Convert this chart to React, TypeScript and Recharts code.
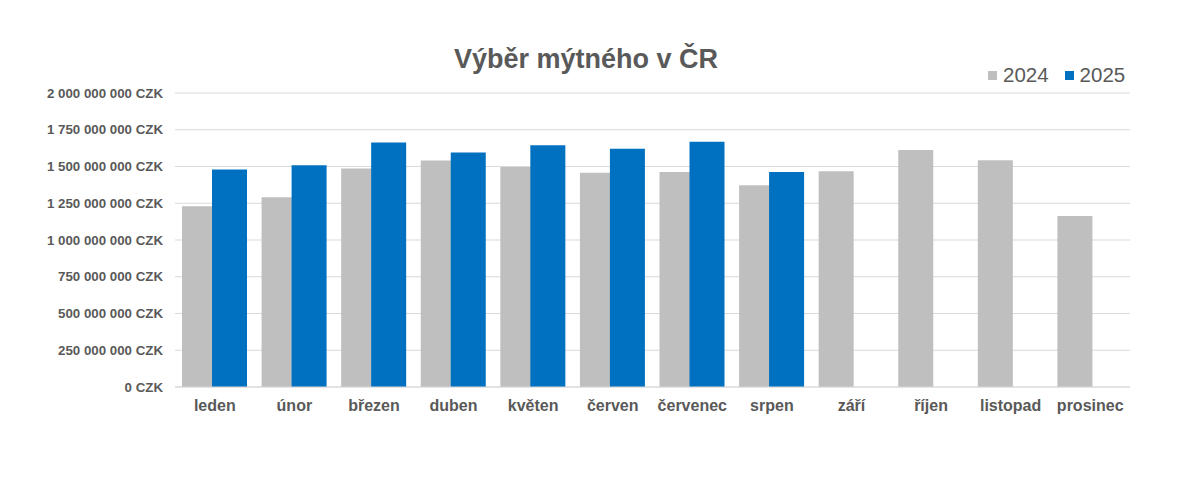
import { BarChart, Bar, XAxis, YAxis, CartesianGrid } from 'recharts';

const months = ['leden', 'únor', 'březen', 'duben', 'květen', 'červen', 'červenec', 'srpen', 'září', 'říjen', 'listopad', 'prosinec'];
const values2024 = [1230e6, 1291e6, 1486e6, 1540e6, 1497e6, 1457e6, 1463e6, 1373e6, 1468e6, 1613e6, 1543e6, 1164e6];
const values2025 = [1479e6, 1509e6, 1663e6, 1595e6, 1645e6, 1620e6, 1668e6, 1463e6, null, null, null, null];
const yTicks = [0, 250e6, 500e6, 750e6, 1000e6, 1250e6, 1500e6, 1750e6, 2000e6];

const data = months.map((m, i) => ({ month: m, y2024: values2024[i], y2025: values2025[i] }));

const FONT = '"Liberation Sans", Arial, sans-serif';
const TEXT = '#595959';

const formatCzk = (v: number) => String(Math.round(v)).replace(/\B(?=(\d{3})+(?!\d))/g, ' ') + ' CZK';

const legendItems = [
  { label: '2024', color: '#bfbfbf' },
  { label: '2025', color: '#0070c0' },
];

export default function App() {
  return (
    <div style={{ position: 'fixed', top: 0, left: 0, width: 1200, height: 477, background: '#fff' }}>
      <div
        style={{
          position: 'absolute',
          top: 44,
          left: 386,
          width: 400,
          textAlign: 'center',
          fontFamily: FONT,
          fontWeight: 'bold',
          fontSize: 27,
          color: TEXT,
        }}
      >
        Výběr mýtného v ČR
      </div>
      {/* legenda vpravo nahoře */}
      <div
        style={{
          position: 'absolute',
          top: 64,
          left: 988,
          display: 'flex',
          gap: 16,
          fontFamily: FONT,
          fontSize: 20.5,
          color: TEXT,
          lineHeight: '22px',
        }}
      >
        {legendItems.map((it) => (
          <div key={it.label} style={{ display: 'flex', alignItems: 'center', gap: 6 }}>
            <span style={{ width: 9, height: 9, background: it.color, display: 'inline-block' }} />
            <span>{it.label}</span>
          </div>
        ))}
      </div>
      <BarChart width={1200} height={477} data={data} barGap={-5} margin={{ top: 93, right: 70, bottom: 60, left: 0 }}>
        <CartesianGrid vertical={false} stroke="#d9d9d9" />
        <XAxis
          dataKey="month"
          height={30}
          axisLine={{ stroke: '#d9d9d9' }}
          tickLine={false}
          tickSize={6}
          tickMargin={7}
          interval={0}
          tick={{ fill: TEXT, fontFamily: FONT, fontSize: 16, fontWeight: 'bold' }}
        />
        <YAxis
          width={175}
          domain={[0, 2000e6]}
          ticks={yTicks}
          axisLine={false}
          tickLine={false}
          tickSize={6}
          tickMargin={6}
          tickFormatter={formatCzk}
          tick={{ fill: TEXT, fontFamily: FONT, fontSize: 13.3, fontWeight: 'bold' }}
        />
        <Bar dataKey="y2024" name="2024" fill="#bfbfbf" barSize={35} isAnimationActive={false} />
        <Bar dataKey="y2025" name="2025" fill="#0070c0" barSize={35} isAnimationActive={false} />
      </BarChart>
    </div>
  );
}
